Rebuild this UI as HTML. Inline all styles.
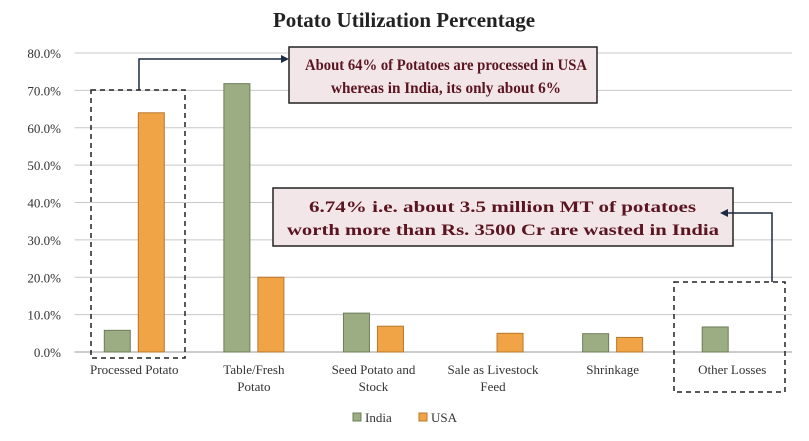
<!DOCTYPE html>
<html><head><meta charset="utf-8"><style>
body{margin:0;background:#fff;}
svg text{font-family:"Liberation Serif",serif;}
</style></head><body>
<svg id="c" width="809" height="436">
<text x="404" y="27" text-anchor="middle" font-size="21" font-weight="bold" fill="#222">Potato Utilization Percentage</text>
<g id="grid"></g><g id="bars"></g><g id="labels"></g>
<rect x="91" y="90" width="94" height="268" fill="none" stroke="#222" stroke-width="1.5" stroke-dasharray="5,4"/>
<rect x="674" y="282" width="111" height="110" fill="none" stroke="#222" stroke-width="1.5" stroke-dasharray="5,4"/>
<g>
<rect x="289" y="47" width="308" height="56" fill="#f3e6e9" stroke="#222" stroke-width="1.5"/>
<text x="305" y="70" font-size="16" font-weight="bold" fill="#5a1520" textLength="282" lengthAdjust="spacingAndGlyphs">About 64% of Potatoes are processed in USA</text>
<text x="331" y="93" font-size="16" font-weight="bold" fill="#5a1520" textLength="230" lengthAdjust="spacingAndGlyphs">whereas in India, its only about 6%</text>
</g>
<g>
<rect x="273" y="188" width="460" height="58" fill="#f3e6e9" stroke="#222" stroke-width="1.5"/>
<text x="309" y="212" font-size="16" font-weight="bold" fill="#5a1520" textLength="387" lengthAdjust="spacingAndGlyphs">6.74% i.e. about 3.5 million MT of potatoes</text>
<text x="287" y="235" font-size="16" font-weight="bold" fill="#5a1520" textLength="432" lengthAdjust="spacingAndGlyphs">worth more than Rs. 3500 Cr are wasted in India</text>
</g>
<polyline points="139,90 139,59 283,59" fill="none" stroke="#1c2a44" stroke-width="1.5"/>
<polygon points="289,59 281,55 281,63" fill="#1c2a44"/>
<polyline points="772,282 772,213 726,213" fill="none" stroke="#1c2a44" stroke-width="1.5"/>
<polygon points="720,213 728,209 728,217" fill="#1c2a44"/>
<g>
<rect x="353" y="413" width="8" height="8" fill="#9cad84" stroke="#6e7d5a"/><text x="365" y="422" font-size="13" fill="#333">India</text>
<rect x="419" y="413" width="8" height="8" fill="#f0a445" stroke="#b8772c"/><text x="431" y="422" font-size="13" fill="#333">USA</text>
</g>
</svg>
<script>
const categories=[["Processed Potato"],["Table/Fresh","Potato"],["Seed Potato and","Stock"],["Sale as Livestock","Feed"],["Shrinkage"],["Other Losses"]];
const india=[5.8,71.8,10.4,0,4.9,6.7];
const usa=[64,20,6.9,5,3.9,0];
const ticks=[0,10,20,30,40,50,60,70,80];
const X0=74.5,X1=792,Y0=352,Y1=53,MAX=80;
const step=(X1-X0)/categories.length;
const y=v=>Y0-(v/MAX)*(Y0-Y1);
const cx=i=>X0+step*(i+0.5);
const NS="http://www.w3.org/2000/svg";
function mk(t,a,p){const e=document.createElementNS(NS,t);for(const k in a)e.setAttribute(k,a[k]);p.appendChild(e);return e;}
const g=document.getElementById('grid'),b=document.getElementById('bars'),l=document.getElementById('labels');
ticks.forEach(t=>{
const ln=mk('line',{x1:X0,x2:X1,y1:y(t),y2:y(t),stroke:t===0?'#999':'#c8c8c8','stroke-width':1},g);


const tx=mk('text',{x:61,y:y(t)+5,'text-anchor':'end','font-size':13,fill:'#333'},g);
tx.textContent=t.toFixed(1)+'%';


});
const bw=26,gap=8;
categories.forEach((c,i)=>{
if(india[i]>0){const r=mk('rect',{x:cx(i)-gap/2-bw,y:y(india[i]),width:bw,height:Y0-y(india[i]),fill:'#9cad84',stroke:'#6e7d5a'},b);

}
if(usa[i]>0){const r=mk('rect',{x:cx(i)+gap/2,y:y(usa[i]),width:bw,height:Y0-y(usa[i]),fill:'#f0a445',stroke:'#b8772c'},b);

}
c.forEach((s,j)=>{const t=mk('text',{x:cx(i),y:374+j*17,'text-anchor':'middle','font-size':13,fill:'#333'},l);
t.textContent=s;

});
});
</script>
</body></html>
